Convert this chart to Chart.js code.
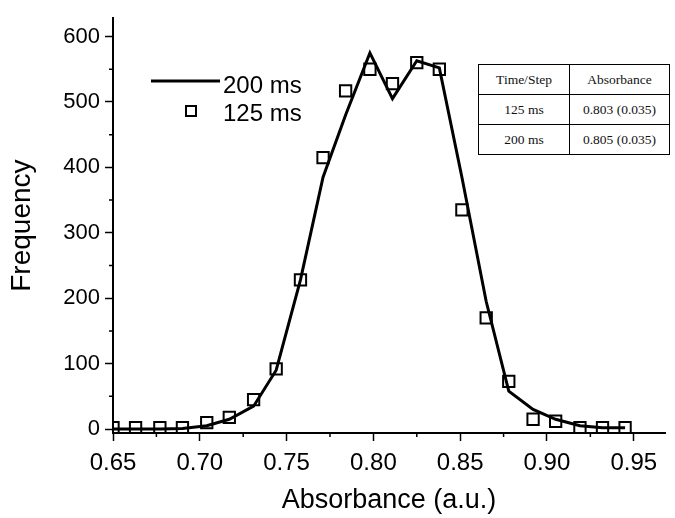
<!DOCTYPE html>
<html>
<head>
<meta charset="utf-8">
<script src="https://cdn.jsdelivr.net/npm/chart.js@4/dist/chart.umd.min.js"></script>
<style>
  html, body { margin: 0; padding: 0; background: #fff; }
  #wrap { position: relative; width: 675px; height: 518px; }
  table.info {
    position: absolute; left: 478px; top: 64px;
    border-collapse: collapse;
    font-family: "Liberation Serif", "Times New Roman", serif;
    font-size: 13.5px; color: #111; background: #fff;
  }
  table.info td { border: 1.5px solid #000; height: 29px; text-align: center; padding: 0; }
  table.info td.c1 { width: 90px; }
  table.info td.c2 { width: 99px; }
</style>
</head>
<body>
<div id="wrap">
  <canvas id="chart" width="675" height="518"></canvas>
  <table class="info">
    <tr><td class="c1">Time/Step</td><td class="c2">Absorbance</td></tr>
    <tr><td class="c1">125 ms</td><td class="c2">0.803 (0.035)</td></tr>
    <tr><td class="c1">200 ms</td><td class="c2">0.805 (0.035)</td></tr>
  </table>
</div>
<script>
// bin centres (a.u.)
const absorbance = [0.650, 0.663, 0.677, 0.690, 0.704, 0.717, 0.731, 0.744, 0.758, 0.771, 0.784, 0.798,
                    0.811, 0.825, 0.838, 0.851, 0.865, 0.878, 0.892, 0.905, 0.919, 0.932, 0.945]
const freq125 = [2, 2, 2, 2, 10, 18, 45, 92, 228, 415, 517, 550,
                 528, 560, 550, 335, 170, 73, 15, 12, 2, 2, 2]
const freq200 = [0, 0, 0, 1, 5, 15, 35, 90, 228, 385, 480, 575,
                 505, 563, 552, 385, 195, 58, 30, 15, 5, 2, 2]

const xTickLabels = ["0.65", "0.70", "0.75", "0.80", "0.85", "0.90", "0.95"]
const yTickLabels = ["0", "100", "200", "300", "400", "500", "600"]

const font = "Liberation Sans, Arial, Helvetica, sans-serif"

const toPoints = ys => absorbance.map((x, i) => ({ x, y: ys[i] }))

const isMajorX = v => Math.abs(v * 20 - Math.round(v * 20)) < 1e-6
const isMajorY = v => v % 100 === 0

// legend drawn inside the plot, top-left
const legendPlugin = {
  id: "plotLegend",
  afterDraw(chart) {
    const ctx = chart.ctx
    ctx.save()
    ctx.strokeStyle = "#000"
    ctx.fillStyle = "#000"
    ctx.lineWidth = 3
    ctx.beginPath()
    ctx.moveTo(151, 81)
    ctx.lineTo(220, 81)
    ctx.stroke()
    ctx.lineWidth = 2
    ctx.strokeRect(186, 106, 10, 10)
    ctx.font = `24px ${font}`
    ctx.textBaseline = "middle"
    ctx.fillText("200 ms", 223, 86)
    ctx.fillText("125 ms", 223, 114)
    ctx.restore()
  }
}

// short minor ticks between the labelled ones
const minorTicks = {
  id: "minorTicks",
  afterDraw(chart) {
    const ctx = chart.ctx
    const { x, y } = chart.scales
    ctx.save()
    ctx.strokeStyle = "#000"
    ctx.lineWidth = 1.5
    ctx.beginPath()
    x.ticks.forEach(t => {
      if (isMajorX(t.value)) return
      const px = x.getPixelForValue(t.value)
      ctx.moveTo(px, x.top)
      ctx.lineTo(px, x.top + 4)
    })
    y.ticks.forEach(t => {
      if (isMajorY(t.value)) return
      const py = y.getPixelForValue(t.value)
      ctx.moveTo(y.right, py)
      ctx.lineTo(y.right - 4, py)
    })
    ctx.stroke()
    ctx.restore()
  }
}

new Chart(document.getElementById("chart"), {
  type: "scatter",
  data: {
    datasets: [
      {
        label: "200 ms",
        data: toPoints(freq200),
        showLine: true,
        borderColor: "#000",
        borderWidth: 3,
        pointRadius: 0,
        tension: 0,
        order: 2
      },
      {
        label: "125 ms",
        data: toPoints(freq125),
        showLine: false,
        pointStyle: "rect",
        pointRadius: 8,
        pointBorderWidth: 2,
        pointBorderColor: "#000",
        pointBackgroundColor: "rgba(0,0,0,0)",
        order: 1
      }
    ]
  },
  options: {
    responsive: false,
    animation: false,
    layout: { padding: { top: 12, right: 6, left: 0, bottom: 0 } },
    plugins: {
      legend: { display: false },
      tooltip: { enabled: false }
    },
    scales: {
      x: {
        type: "linear",
        min: 0.65,
        max: 0.968,
        border: { color: "#000", width: 2 },
        grid: {
          drawOnChartArea: false,
          tickLength: 8,
          tickWidth: 1.5,
          tickColor: c => (c.tick && isMajorX(c.tick.value) ? "#000" : "rgba(0,0,0,0)")
        },
        ticks: {
          stepSize: 0.025,
          includeBounds: false,
          autoSkip: false,
          maxRotation: 0,
          color: "#000",
          font: { family: font, size: 24 },
          padding: 8,
          callback: v => {
            if (!isMajorX(v)) return ""
            const s = v.toFixed(2)
            return xTickLabels.includes(s) ? s : ""
          }
        },
        title: {
          display: true,
          text: "Absorbance (a.u.)",
          color: "#000",
          font: { family: font, size: 27 },
          padding: { top: 4, bottom: 1 }
        },
        afterFit: s => { s.height = 85 }
      },
      y: {
        type: "linear",
        min: -6,
        max: 628,
        border: { color: "#000", width: 2 },
        grid: {
          drawOnChartArea: false,
          tickLength: 8,
          tickWidth: 1.5,
          tickColor: c => (c.tick && isMajorY(c.tick.value) ? "#000" : "rgba(0,0,0,0)")
        },
        ticks: {
          stepSize: 50,
          includeBounds: false,
          autoSkip: false,
          color: "#000",
          font: { family: font, size: 22 },
          padding: 5,
          callback: v => {
            if (!isMajorY(v)) return ""
            const s = String(v)
            return yTickLabels.includes(s) ? s : ""
          }
        },
        title: {
          display: true,
          text: "Frequency",
          color: "#000",
          font: { family: font, size: 28 },
          padding: { top: 5, bottom: 4 }
        },
        afterFit: s => { s.width = 113 }
      }
    }
  },
  plugins: [legendPlugin, minorTicks]
})
</script>
</body>
</html>
